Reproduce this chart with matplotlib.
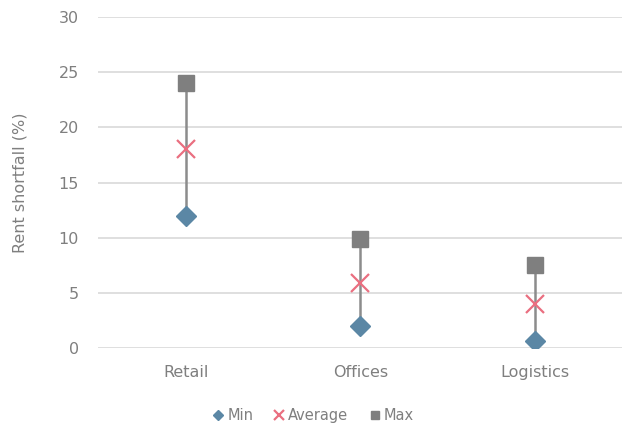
import matplotlib.pyplot as plt
import numpy as np

categories = ["Retail", "Offices", "Logistics"]
min_vals = [12, 2, 0.6]
avg_vals = [18, 5.9, 4]
max_vals = [24, 9.9, 7.5]

GREY_TXT = "#7f7f7f"
plt.rcParams['font.family'] = ['DejaVu Sans']

fig = plt.figure(figsize=(6.26, 4.28), dpi=100)
ax = fig.add_axes([0.157, 0.187, 0.837, 0.773])

x = np.arange(len(categories))

# range bars from min to max
ax.vlines(x, min_vals, max_vals, color="#8c8c8c", lw=1.8, zorder=2)

ax.plot(x, min_vals, ls="none", marker="D", ms=10, color="#5b87a5",
        mec="#5b87a5", label="Min", zorder=3)
ax.plot(x, avg_vals, ls="none", marker="x", ms=13, mew=1.6, color="#ea6f80",
        label="Average", zorder=3)
ax.plot(x, max_vals, ls="none", marker="s", ms=11.5, color="#7f7f7f",
        label="Max", zorder=3)

ax.set_xlim(-0.5, 2.5)
ax.set_ylim(0, 30)
ax.set_yticks(range(0, 31, 5))
ax.set_xticks(x)
ax.set_xticklabels(categories)
ax.grid(axis="y", color="#d9d9d9", lw=1.2, zorder=0)
ax.set_axisbelow(True)
for s in ax.spines.values():
    s.set_visible(False)
ax.tick_params(length=0, labelsize=11.5, colors=GREY_TXT, pad=14)
ax.tick_params(axis="x", pad=12)
ax.set_ylabel("Rent shortfall (%)", fontsize=11.5, color=GREY_TXT, labelpad=22)

leg = fig.legend(loc="lower center", bbox_to_anchor=(0.5, -0.02), ncol=3,
                 frameon=False, fontsize=10.5, markerscale=0.5,
                 handlelength=0.8, handletextpad=0.2, columnspacing=1.4)
for t in leg.get_texts():
    t.set_color(GREY_TXT)

fig.savefig("out.png", dpi=100)
